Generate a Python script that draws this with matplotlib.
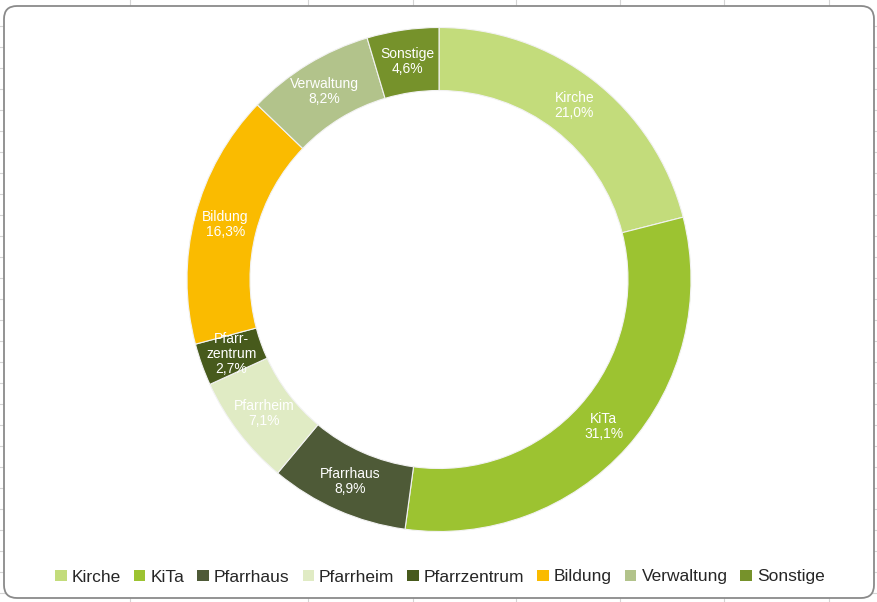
import matplotlib.pyplot as plt
from matplotlib.patches import FancyBboxPatch, Patch

plt.rcParams['font.family'] = ['Liberation Sans', 'DejaVu Sans']

# data
categories = ["Kirche", "KiTa", "Pfarrhaus", "Pfarrheim", "Pfarrzentrum",
              "Bildung", "Verwaltung", "Sonstige"]
shares = [21.0, 31.1, 8.9, 7.1, 2.7, 16.3, 8.2, 4.6]
slice_labels = ["Kirche\n21,0%", "KiTa\n31,1%", "Pfarrhaus\n8,9%", "Pfarrheim\n7,1%",
                "Pfarr-\nzentrum\n2,7%", "Bildung\n16,3%", "Verwaltung\n8,2%",
                "Sonstige\n4,6%"]
colors = ["#C3DC7B", "#9CC331", "#4E5A37", "#E0EBC4", "#475A1C",
          "#FABB00", "#B2C38B", "#76922B"]

W, H = 878, 602
fig = plt.figure(figsize=(W / 100, H / 100), dpi=100)

# spreadsheet cells behind the chart and the rounded chart frame
bg = fig.add_axes([0, 0, 1, 1])
bg.set_xlim(0, W)
bg.set_ylim(H, 0)
bg.axis("off")
for x in [130, 308, 413, 516, 620, 724, 829]:
    bg.plot([x, x], [0, H], color="#d4d4d4", lw=0.8, zorder=1)
y = 26
while y < H:
    bg.plot([0, W], [y, y], color="#d4d4d4", lw=0.8, zorder=1)
    y += 21
frame = FancyBboxPatch((4, 6), W - 8, H - 10,
                       boxstyle="round,pad=0,rounding_size=13",
                       facecolor="white", edgecolor="#8a8a8a", lw=1.3, zorder=5)
bg.add_patch(frame)

# donut
cx, cy, r = 439, 279.5, 252
ax = fig.add_axes([(cx - r) / W, (H - cy - r) / H, 2 * r / W, 2 * r / H])
wedges, texts = ax.pie(shares, colors=colors, labels=slice_labels,
                       startangle=90, counterclock=False, radius=1,
                       labeldistance=0.875,
                       wedgeprops=dict(width=0.25, edgecolor="#f2f2f2", linewidth=0.8),
                       textprops=dict(color="white", fontsize=10, ha="center",
                                      va="center", linespacing=1.1))
ax.set_xlim(-1, 1)
ax.set_ylim(-1, 1)
ax.set_aspect("equal")
ax.axis("off")

handles = [Patch(facecolor=c, edgecolor="none") for c in colors]
fig.legend(handles, categories, loc="center", bbox_to_anchor=(440 / W, 1 - 577 / H),
           ncol=8, frameon=False, fontsize=12.5, handlelength=0.65, handleheight=0.65,
           handletextpad=0.3, columnspacing=0.75, labelcolor="#262626")

fig.savefig("out.png", dpi=100)
